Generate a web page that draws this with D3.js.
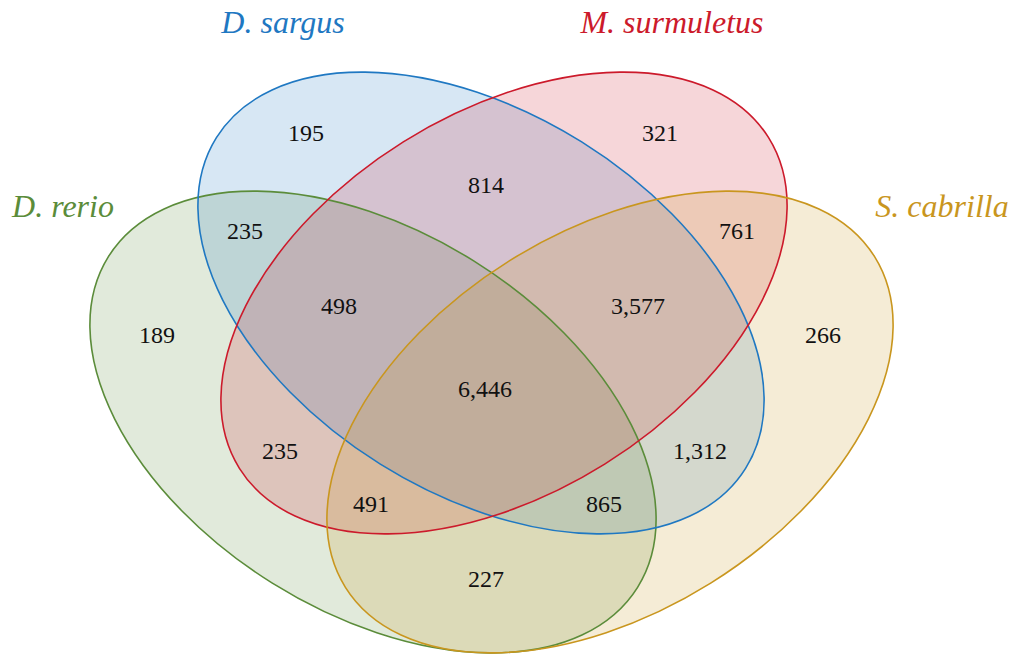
<!DOCTYPE html>
<html>
<head>
<meta charset="utf-8">
<script src="https://cdn.jsdelivr.net/npm/d3@7"></script>
<style>
  html, body { margin: 0; padding: 0; background: #fff; }
  svg { display: block; }
  svg text { font-family: 'Liberation Serif', Tinos, 'Times New Roman', Times, 'DejaVu Serif', serif; }
</style>
</head>
<body>
<svg id="chart" width="1018" height="655"></svg>
<script>
// sets and region counts
const setNames = ['D. rerio', 'D. sargus', 'M. surmuletus', 'S. cabrilla'];
const setColors = ['#5b8c3a', '#1f78c2', '#cc1a2b', '#c9961e'];
// membership codes: R = rerio, D = sargus, M = surmuletus, S = cabrilla
const regionSets = ['D', 'M', 'DM', 'RD', 'MS', 'RDM', 'DMS', 'R', 'S', 'RDMS', 'RM', 'DS', 'RMS', 'RDS', 'RS'];
const regionCounts = [195, 321, 814, 235, 761, 498, 3577, 189, 266, 6446, 235, 1312, 491, 865, 227];

// layout (pixels)
const W = 1018, H = 655;
const ell = { rx: 312, ry: 190, angle: 32 };
const centers = [[373, 422], [481, 303], [504, 303], [610, 422]];
const tilt = [1, 1, -1, -1];
const titlePos = [[63, 217], [283, 33], [672, 33], [942, 217]];
const regionPos = {
  D: [306, 133], M: [660, 133], DM: [486, 185], RD: [245, 231], MS: [737, 231],
  RDM: [339, 306], DMS: [638, 306], R: [157, 335], S: [823, 335], RDMS: [485, 389],
  RM: [280, 451], DS: [700, 451], RMS: [371, 504], RDS: [604, 504], RS: [486, 579]
};

const svg = d3.select('#chart');
const fmt = d3.format(',');
const place = (d, i) => `translate(${centers[i][0]},${centers[i][1]}) rotate(${tilt[i] * ell.angle})`;

const ellG = svg.append('g');
ellG.selectAll('ellipse.fill')
  .data(setNames)
  .join('ellipse')
  .attr('class', 'fill')
  .attr('rx', ell.rx).attr('ry', ell.ry)
  .attr('transform', place)
  .attr('fill', (d, i) => setColors[i])
  .attr('fill-opacity', 0.18)
  .attr('stroke', 'none');

ellG.selectAll('ellipse.edge')
  .data(setNames)
  .join('ellipse')
  .attr('class', 'edge')
  .attr('rx', ell.rx).attr('ry', ell.ry)
  .attr('transform', place)
  .attr('fill', 'none')
  .attr('stroke', (d, i) => setColors[i])
  .attr('stroke-width', 1.6);

// set titles
svg.append('g').selectAll('text')
  .data(setNames)
  .join('text')
  .attr('x', (d, i) => titlePos[i][0])
  .attr('y', (d, i) => titlePos[i][1])
  .attr('text-anchor', 'middle')
  .style('font-style', 'italic')
  .style('font-size', '32px')
  .attr('fill', (d, i) => setColors[i])
  .text(d => d);

// region counts
svg.append('g').selectAll('text')
  .data(regionSets)
  .join('text')
  .attr('x', d => regionPos[d][0])
  .attr('y', d => regionPos[d][1])
  .attr('dy', '0.35em')
  .attr('text-anchor', 'middle')
  .style('font-size', '24px')
  .attr('fill', '#111')
  .text((d, i) => fmt(regionCounts[i]));
</script>
</body>
</html>
